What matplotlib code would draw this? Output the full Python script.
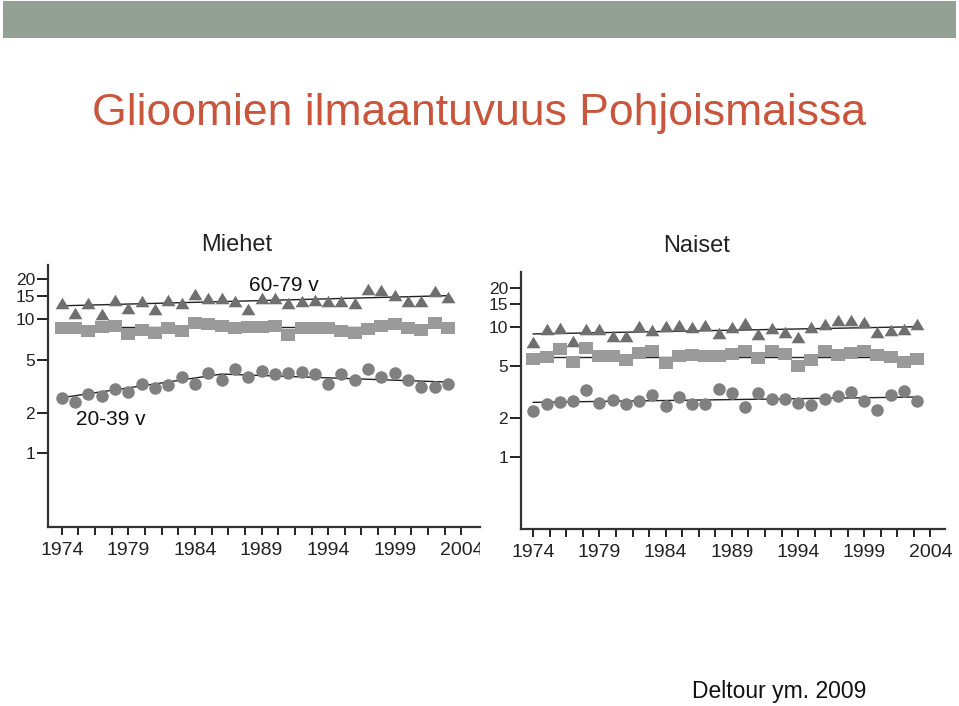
import numpy as np
import matplotlib
matplotlib.use("Agg")
from matplotlib import pyplot as plt
from matplotlib.patches import Rectangle

plt.rcParams['font.family'] = ['Liberation Sans', 'DejaVu Sans']

years = list(range(1974, 2004))

# Miehet (men)
men_60_79 = [13.3, 11.1, 13.2, 11.0, 13.9, 12.1, 13.6, 12.0, 13.9, 13.2,
             15.4, 14.3, 14.5, 13.7, 12.0, 14.5, 14.5, 13.3, 13.6, 13.9,
             13.6, 13.6, 13.2, 16.7, 16.4, 15.1, 13.6, 13.7, 16.2, 14.7]
men_40_59 = [8.65, 8.65, 8.22, 8.81, 8.96, 7.77, 8.32, 7.86, 8.65, 8.18,
             9.34, 9.22, 8.91, 8.65, 8.81, 8.81, 8.91, 7.64, 8.65, 8.65,
             8.65, 8.18, 7.86, 8.47, 8.91, 9.22, 8.65, 8.32, 9.34, 8.57]
men_20_39 = [2.57, 2.43, 2.76, 2.68, 3.00, 2.88, 3.29, 3.06, 3.23, 3.73,
             3.29, 4.00, 3.52, 4.24, 3.73, 4.11, 3.89, 3.95, 4.06, 3.89,
             3.29, 3.89, 3.52, 4.24, 3.73, 3.95, 3.52, 3.13, 3.13, 3.29]

# Naiset (women)
women_60_79 = [7.67, 9.55, 9.70, 7.80, 9.55, 9.60, 8.48, 8.48, 10.1, 9.43,
               10.1, 10.3, 9.90, 10.3, 8.90, 10.0, 10.7, 8.80, 9.70, 9.05,
               8.28, 9.90, 10.5, 11.3, 11.3, 10.9, 9.05, 9.40, 9.60, 10.5]
women_40_59 = [5.61, 5.82, 6.70, 5.38, 6.80, 5.95, 5.95, 5.55, 6.24, 6.45,
               5.23, 5.95, 6.10, 5.95, 5.95, 6.15, 6.53, 5.78, 6.53, 6.15,
               4.99, 5.55, 6.45, 6.06, 6.24, 6.53, 6.06, 5.90, 5.38, 5.61]
women_20_39 = [2.25, 2.54, 2.65, 2.68, 3.26, 2.60, 2.73, 2.54, 2.68, 2.98,
               2.45, 2.90, 2.54, 2.54, 3.30, 3.11, 2.40, 3.07, 2.76, 2.76,
               2.60, 2.52, 2.76, 2.93, 3.16, 2.68, 2.29, 2.98, 3.20, 2.68]

# trend lines (joinpoint knots)
men_trend = {
    '60-79': ([1974, 2003], [12.6, 15.0]),
    '40-59': ([1974, 2003], [8.7, 8.7]),
    '20-39': ([1974, 1986, 2003], [2.6, 3.9, 3.4]),
}
women_trend = {
    '60-79': ([1974, 2003], [8.8, 10.0]),
    '40-59': ([1974, 2003], [5.9, 5.9]),
    '20-39': ([1974, 2003], [2.62, 2.88]),
}

ytick_vals = [1, 2, 5, 10, 15, 20]
xtick_vals = np.arange(1974, 2004.1, 1.25)

W, H = 959, 706
fig = plt.figure(figsize=(W / 100, H / 100), dpi=100)

# header bar
fig.patches.append(Rectangle((3 / W, 1 - 38 / H), 953 / W, 37 / H,
                             transform=fig.transFigure, facecolor='#93a094',
                             edgecolor='none', zorder=0))

fig.text(92 / W, 1 - 125 / H, 'Glioomien ilmaantuvuus Pohjoismaissa',
         color='#c9553c', fontsize=32, ha='left', va='baseline')
fig.text(692 / W, 1 - 698 / H, 'Deltour ym. 2009', color='#111111',
         fontsize=16.5, ha='left', va='baseline')

tri = [(-1.2, -1), (1.2, -1), (0, 1)]
sq = [(-1.1, -1), (1.1, -1), (1.1, 1), (-1.1, 1)]


def panel(rect, ylim, xlim, old, mid, young, trend):
    ax = fig.add_axes(rect)
    for key in trend:
        tx, ty = trend[key]
        ax.plot(tx, ty, color='#222222', lw=1.0, zorder=1)
    ax.plot(years, old, ls='none', marker=tri, ms=10, color='#6f6f6f',
            mew=0, zorder=3)
    ax.plot(years, mid, ls='none', marker=sq, ms=10, color='#9a9a9a',
            mew=0, zorder=3)
    ax.plot(years, young, ls='none', marker='o', ms=9, color='#808080',
            mew=0, zorder=3)
    ax.set_yscale('log')
    ax.set_ylim(*ylim)
    ax.set_xlim(*xlim)
    ax.set_yticks(ytick_vals)
    ax.set_yticklabels([str(v) for v in ytick_vals])
    ax.yaxis.set_minor_locator(plt.NullLocator())
    ax.set_xticks(xtick_vals)
    ax.set_xticklabels([str(int(t)) if (t - 1974) % 5 == 0 else ''
                        for t in xtick_vals])
    for s in ['top', 'right']:
        ax.spines[s].set_visible(False)
    for s in ['left', 'bottom']:
        ax.spines[s].set_linewidth(1.6)
        ax.spines[s].set_color('#333333')
    ax.tick_params(axis='y', length=8, width=1.4, pad=1, labelsize=12.5,
                   colors='#222222')
    ax.tick_params(axis='x', length=5.5, width=1.4, pad=5, labelsize=14,
                   colors='#222222')
    ax.patch.set_alpha(0)
    return ax


ax1 = panel([47.5 / W, 1 - 527 / H, (480 - 47.5) / W, 262 / H],
            (0.282, 25.4), (1972.93, 2005.4),
            men_60_79, men_40_59, men_20_39, men_trend)
ax2 = panel([520.7 / W, 1 - 529 / H, (945 - 520.7) / W, 257.3 / H],
            (0.278, 26.5), (1973.05, 2005.1),
            women_60_79, women_40_59, women_20_39, women_trend)

# cut the left panel's last year label like in the source
fig.patches.append(Rectangle((480 / W, 1 - 562 / H), 32 / W, 26 / H,
                             transform=fig.transFigure, facecolor='white',
                             edgecolor='none', zorder=10))

fig.text(237 / W, 1 - 245 / H, 'Miehet', fontsize=17, ha='center',
         va='center', color='#222222')
fig.text(697 / W, 1 - 246 / H, 'Naiset', fontsize=17, ha='center',
         va='center', color='#222222')
fig.text(284 / W, 1 - 286 / H, '60-79 v', fontsize=15, ha='center',
         va='center', color='#111111')
fig.text(111 / W, 1 - 420 / H, '20-39 v', fontsize=15, ha='center',
         va='center', color='#111111')

fig.savefig('out.png', dpi=100, facecolor='white')
